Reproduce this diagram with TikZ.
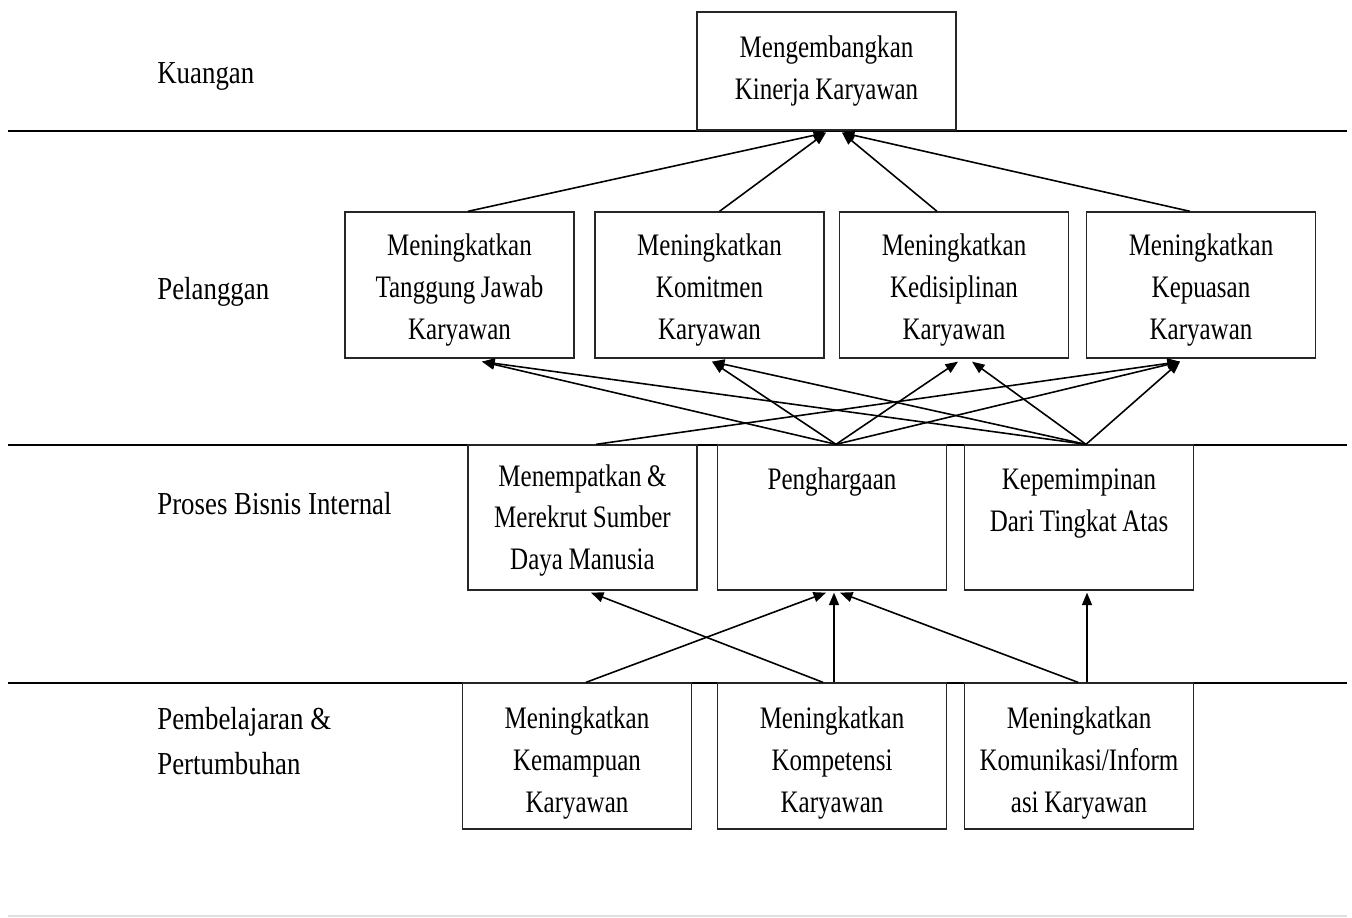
\documentclass[tikz,border=0pt]{standalone}
\usepackage{fontspec}
\setmainfont[FakeStretch=0.8,WordSpace=0.9]{Liberation Serif}
\newfontfamily\lblfont[FakeStretch=0.84]{Liberation Serif}
\usetikzlibrary{arrows.meta,calc}
\tikzset{
  box/.style={draw=black!85, line width=0.75pt, fill=white, inner sep=0pt,
    minimum width=229*0.02cm, minimum height=146*0.02cm,
    text width=229*0.02cm, align=flush center,
    font=\fontsize{17.8}{23.8}\selectfont},
  band/.style={line width=1.7pt, black},
  conn/.style={line width=0.9pt, black, -{Triangle[length=0.25cm,width=0.2cm]}},
  lbl/.style={anchor=west, align=flush left, inner sep=0pt,
    font=\lblfont\fontsize{18.2}{25.5}\selectfont}
}
\begin{document}
\begin{tikzpicture}[x=0.02cm, y=-0.02cm]
\useasboundingbox (0,0) rectangle (1352,918);
% band lines
\coordinate (L1a) at (8,131);  \coordinate (L1b) at (1347,131);
\coordinate (L2a) at (8,445);  \coordinate (L2b) at (1347,445);
\coordinate (L3a) at (8,683);  \coordinate (L3b) at (1347,683);
\coordinate (L4a) at (8,916);  \coordinate (L4b) at (1347,916);
\draw[band] (L1a) -- (L1b);
\draw[band] (L2a) -- (L2b);
\draw[band] (L3a) -- (L3b);
\draw[line width=0.6pt, black!12] (L4a) -- (L4b);

% perspective labels
\node[lbl] (kuangan) at (157,76) {Kuangan};
\node[lbl] (pelanggan) at (157,292) {Pelanggan};
\node[lbl] (proses) at (157,504) {Proses Bisnis Internal};
\node[lbl] (pembelajaran) at (157,741) {Pembelajaran \&\\Pertumbuhan};

% boxes
\node[box, minimum width=259*0.02cm, text width=259*0.02cm, minimum height=118*0.02cm] (T) at (826.5,71) {Mengembangkan\\Kinerja Karyawan\\[4pt]};
\node[box] (A) at (459.5,285) {\rule{0pt}{18pt}Meningkatkan\\Tanggung Jawab\\Karyawan};
\node[box] (B) at (709.5,285) {\rule{0pt}{18pt}Meningkatkan\\Komitmen\\Karyawan};
\node[box] (C) at (954,285) {\rule{0pt}{18pt}Meningkatkan\\Kedisiplinan\\Karyawan};
\node[box] (D) at (1201,285) {\rule{0pt}{18pt}Meningkatkan\\Kepuasan\\Karyawan};

\node[box, minimum height=145*0.02cm] (E) at (582.5,517.5) {\rule{0pt}{15.6pt}Menempatkan \&\\Merekrut Sumber\\Daya Manusia};
\node[box, minimum height=145*0.02cm] (F) at (832,517.5) {\rule{0pt}{15.6pt}Penghargaan\\\mbox{}\\\mbox{}};
\node[box, minimum height=145*0.02cm] (G) at (1079,517.5) {\rule{0pt}{15.6pt}Kepemimpinan\\Dari Tingkat Atas\\\mbox{}};

\node[box] (H) at (577,756) {\rule{0pt}{20pt}Meningkatkan\\Kemampuan\\Karyawan};
\node[box] (I) at (832,756) {\rule{0pt}{20pt}Meningkatkan\\Kompetensi\\Karyawan};
\node[box] (J) at (1079,756) {\rule{0pt}{20pt}Meningkatkan\\Komunikasi/Inform\\asi Karyawan};

% row 2 -> top
\draw[conn] ($(A.north)+(8.5,0)$) -- ($(T.south)+(-0.5,2)$);
\draw[conn] ($(B.north)+(10,0)$) -- ($(T.south)+(-0.5,2)$);
\draw[conn] ($(C.north)+(-17,0)$) -- ($(T.south)+(15.5,2)$);
\draw[conn] ($(D.north)+(-11,0)$) -- ($(T.south)+(15.5,2)$);

% row 3 -> row 2
\draw[conn] ($(E.north)+(13.5,0)$) -- ($(D.south)+(-21,3)$);
\draw[conn] ($(F.north)+(4,0)$) -- ($(A.south)+(22.5,3)$);
\draw[conn] ($(F.north)+(4,0)$) -- ($(B.south)+(2.5,3)$);
\draw[conn] ($(F.north)+(4,0)$) -- ($(C.south)+(4,3)$);
\draw[conn] ($(F.north)+(4,0)$) -- ($(D.south)+(-21,3)$);
\draw[conn] ($(G.north)+(7,0)$) -- ($(A.south)+(22.5,3)$);
\draw[conn] ($(G.north)+(7,0)$) -- ($(B.south)+(2.5,3)$);
\draw[conn] ($(G.north)+(7,0)$) -- ($(C.south)+(18,3)$);
\draw[conn] ($(G.north)+(7,0)$) -- ($(D.south)+(-21,3)$);

% row 4 -> row 3
\draw[conn] ($(H.north)+(9,0)$) -- ($(F.south)+(-6,2)$);
\draw[conn] ($(I.north)+(-9,0)$) -- ($(E.south)+(8.5,2)$);
\draw[conn] ($(I.north)+(2,0)$) -- ($(F.south)+(2,2)$);
\draw[conn] ($(J.north)+(-1,0)$) -- ($(F.south)+(8,2)$);
\draw[conn] ($(J.north)+(8,0)$) -- ($(G.south)+(8,2)$);
\end{tikzpicture}
\end{document}
